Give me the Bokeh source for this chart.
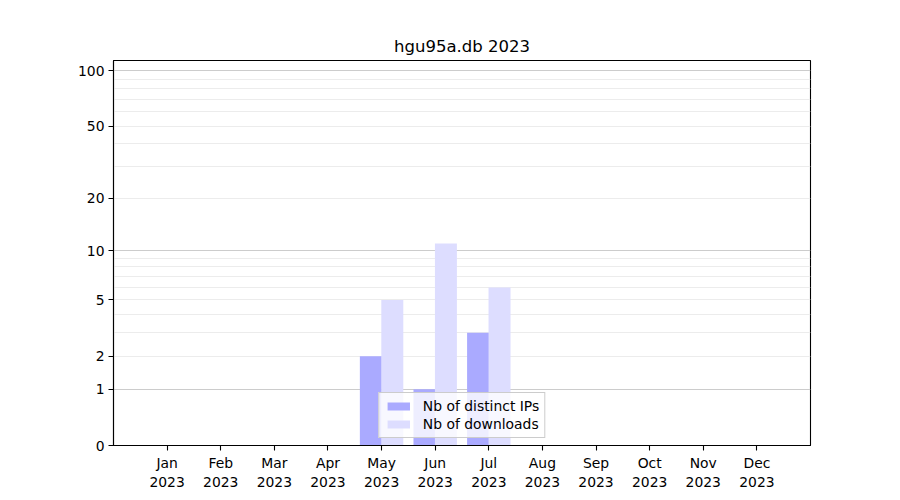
import numpy as np
from bokeh.plotting import figure
from bokeh.models import ColumnDataSource, FixedTicker, Legend, LegendItem, Range1d, Grid
from bokeh.embed import file_html
from bokeh.resources import INLINE

months = ["Jan", "Feb", "Mar", "Apr", "May", "Jun", "Jul", "Aug", "Sep", "Oct", "Nov", "Dec"]
year = "2023"
distinct_ips = [0, 0, 0, 0, 2, 1, 3, 0, 0, 0, 0, 0]
downloads = [0, 0, 0, 0, 5, 11, 6, 0, 0, 0, 0, 0]
y_ticks = [0, 1, 2, 5, 10, 20, 50, 100]
y_grid_major = [1, 10, 100]
y_grid_minor = [2, 3, 4, 5, 6, 7, 8, 9, 20, 30, 40, 50, 60, 70, 80, 90]


def tr(v):
    return np.log10(1 + np.asarray(v, dtype=float))


x = np.arange(len(months))
src = ColumnDataSource(dict(
    x_ip=x - 0.2, x_dl=x + 0.2,
    ip=tr(distinct_ips), dl=tr(downloads),
))

FONT = "DejaVu Sans"

p = figure(width=892, height=492, output_backend="svg", toolbar_location=None,
           x_range=Range1d(-1, 12), y_range=Range1d(0, 2.058),
           min_border_left=113, min_border_right=82, min_border_top=60, min_border_bottom=47,
           title="hgu95a.db 2023")
p.frame_width = 697
p.frame_height = 385
p.title.align = "center"
p.title.text_font = FONT
p.title.text_font_style = "normal"
p.title.text_font_size = "16.5px"
p.title.text_color = "black"
p.title.standoff = 9
p.outline_line_color = "black"
p.outline_line_width = 1.1
p.grid.visible = False

r_ip = p.vbar(x="x_ip", top="ip", bottom=0, width=0.41, source=src,
              fill_color="#aaaaff", line_color=None)
r_dl = p.vbar(x="x_dl", top="dl", bottom=0, width=0.41, source=src,
              fill_color="#ddddff", line_color=None)

# grid
g = Grid(dimension=1, ticker=FixedTicker(ticks=list(tr(y_grid_major)), minor_ticks=list(tr(y_grid_minor))),
         grid_line_color="#cccccc", grid_line_width=1,
         minor_grid_line_color="#ececec", minor_grid_line_width=1)
p.add_layout(g)

# axes
xa = p.xaxis[0]
xa.ticker = FixedTicker(ticks=list(x))
xa.major_label_overrides = {int(i): f"{m}\n{year}" for i, m in enumerate(months)}
ya = p.yaxis[0]
ytv = tr(y_ticks)
ya.ticker = FixedTicker(ticks=list(ytv))
ya.major_label_overrides = {float(t): str(v) for t, v in zip(ytv, y_ticks)}
for ax in (xa, ya):
    ax.axis_line_color = "black"
    ax.axis_line_width = 1.1
    ax.major_tick_line_color = "black"
    ax.major_tick_line_width = 1.1
    ax.major_tick_in = 0
    ax.major_tick_out = 5
    ax.minor_tick_line_color = None
    ax.major_label_text_font = FONT
    ax.major_label_text_font_size = "13.9px"
    ax.major_label_text_color = "black"
    ax.major_label_standoff = 4

legend = Legend(items=[
    LegendItem(label="Nb of distinct IPs", renderers=[r_ip]),
    LegendItem(label="Nb of downloads", renderers=[r_dl]),
], location="bottom_center")
legend.label_text_font = FONT
legend.label_text_font_size = "13.9px"
legend.label_text_color = "black"
legend.glyph_width = 28
legend.glyph_height = 10
legend.label_height = 14
legend.spacing = 2
legend.padding = 5
legend.margin = 7
legend.label_standoff = 11
legend.background_fill_alpha = 0.8
legend.border_line_color = "#cccccc"
legend.border_line_alpha = 1
p.add_layout(legend)

open("out.html", "w").write(file_html(p, INLINE))
